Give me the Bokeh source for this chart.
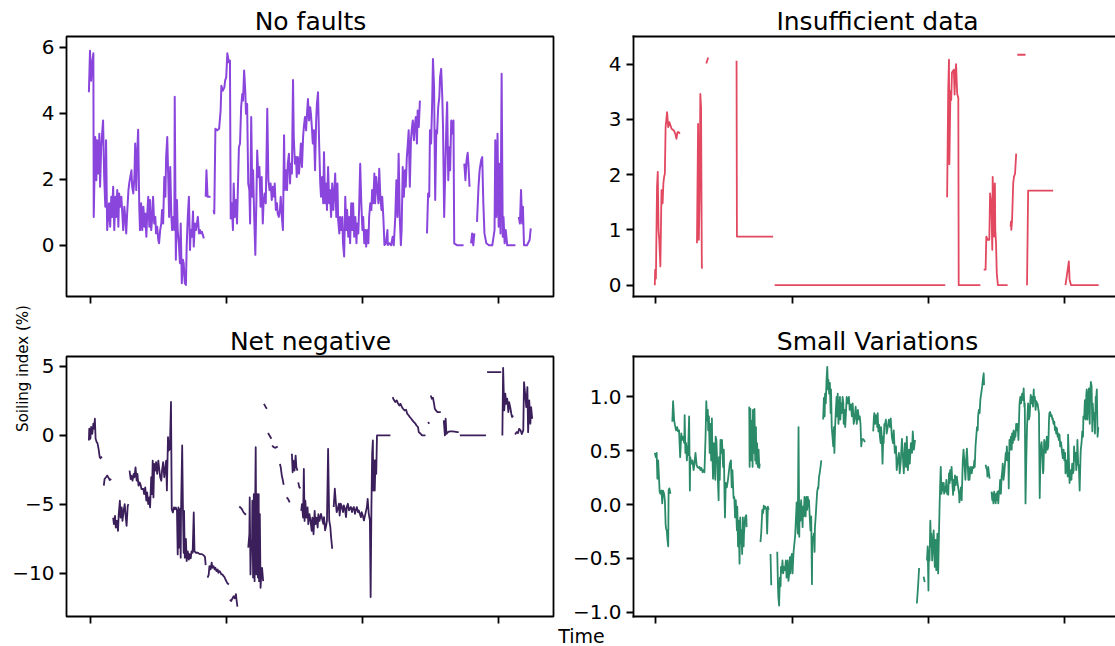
import math
from bokeh.plotting import figure
from bokeh.models import Range1d, FixedTicker, LinearAxis, CustomJSTickFormatter, GridBox
from bokeh.core.properties import value
from bokeh.embed import file_html
from bokeh.resources import INLINE

# ---------------- data (day index, soiling index %) ; None = gap ----------------
TITLES = ["No faults", "Insufficient data", "Net negative", "Small Variations"]
COLORS = ["#8a46dc", "#e2485f", "#3b1f5b", "#2b8a68"]
X_TICKS = [3, 368, 733, 1098]
TL_YTICKS = [0, 2, 4, 6]
TR_YTICKS = [0, 1, 2, 3, 4]
BL_YTICKS = [-10, -5, 0, 5]
BR_YTICKS = [-1.0, -0.5, 0.0, 0.5, 1.0]
Y_LABEL = "Soiling index (%)"
X_LABEL = "Time"

NO_FAULTS = [
(0,4.63),(3,5.89),(6,4.98),(9,5.54),(12,5.81),(13,0.86),(17,3.28),(20,1.97),(22,3.18),(25,2.17),(28,3.38),(30,1.77),(33,2.97),(36,3.48),(38,3.78),(41,2.07),(44,1.17),(46,3.18),(49,0.46),(52,0.96),(54,1.27),(57,0.56),(60,1.47),(62,0.86),(65,1.77),(68,0.46),(71,1.47),(73,0.86),(76,1.67),(79,0.56),(81,1.57),(84,1.17),(87,1.47),(89,1.07),(92,0.46),(95,1.17),(98,0.76),(100,0.36),(103,1.07),(106,1.67),(108,1.87),(111,2.07),(114,2.27),(116,1.77),(119,1.57),(122,2.07),(124,3.08),(127,1.67),(129,2.67),(132,3.50),(135,1.17),(137,0.46),(140,1.27),(143,0.46),(146,1.17),(149,0.56),(151,0.96),(154,0.26),(156,0.86),(159,1.47),(162,0.56),(164,1.37),(167,0.46),(170,0.86),(172,1.47),(175,0.66),(178,0.86),(180,0.36),(183,0.56),(186,0.16),(188,0.06),(191,0.46),(194,0.66),(196,1.07),(199,0.66),(202,2.07),(205,1.47),(207,2.67),(210,3.28),(213,1.87),(215,0.86),(218,2.37),(221,0.86),(223,0.46),(226,0.86),(229,0.46),(230,4.50),(233,-0.44),(236,1.37),(238,0.46),(241,0.06),(244,-0.54),(246,0.66),(249,-1.15),(252,-0.44),(254,-0.54),(257,-1.15),(260,-1.20),(262,-0.04),(265,0.86),(268,1.47),(271,-0.14),(273,0.46),(276,0.26),(279,1.02),(281,-0.04),(284,0.66),(287,0.46),(290,0.71),(292,0.86),(295,0.36),(298,0.46),(300,0.36),(303,0.41),(308,0.21),
(310,None),
(313,1.47),(315,2.27),(318,1.47),(326,1.47),
(330,None),
(334,1.07),(336,0.96),(339,3.53),(344,3.48),(349,3.53),(353,4.08),(355,4.83),(359,4.68),(363,4.78),(365,4.98),(368,5.09),(371,5.81),(375,5.54),(378,5.59),(380,0.81),(383,1.27),(386,0.46),(388,1.87),(391,0.86),(394,1.37),(397,0.66),(402,2.97),(405,3.08),(408,4.18),(411,4.58),(413,4.38),(416,5.29),(419,4.68),(421,3.98),(424,4.28),(427,1.87),(430,1.67),(432,0.66),(435,3.88),(438,1.47),(440,2.27),(443,0.86),(446,-0.29),(449,1.47),(451,2.87),(454,2.07),(457,2.37),(460,1.17),(463,2.07),(466,0.66),(468,1.27),(471,1.57),(474,1.27),(478,4.13),(481,1.97),(484,1.67),(487,1.87),(490,1.37),(493,1.77),(496,1.47),(498,1.87),(501,1.07),(504,1.27),(506,0.96),(509,0.86),(512,1.07),(514,1.47),(517,0.86),(520,0.46),(523,3.33),(525,1.67),(528,2.27),(531,1.67),(533,2.47),(536,2.77),(539,1.87),(541,2.47),(544,2.17),(547,5.00),(549,3.28),(552,2.47),(555,2.67),(557,2.07),(560,2.67),(563,2.17),(566,2.67),(568,3.08),(571,2.37),(574,3.28),(576,3.58),(579,3.88),(582,3.48),(585,4.08),(587,4.43),(590,3.78),(593,4.18),(595,3.98),(598,3.48),(600,3.08),(603,3.48),(606,2.27),(609,3.78),(611,4.28),(614,4.63),(617,3.08),(620,1.87),(622,1.47),(625,2.07),(628,1.27),(630,2.82),(633,1.27),(636,1.87),(638,1.07),(641,2.37),(644,1.27),(646,1.67),(649,0.86),(652,1.87),(655,1.07),(657,1.47),(660,2.17),(663,0.86),(666,1.87),(668,0.76),(671,0.36),(673,0.86),(676,0.46),(679,0.86),(681,0.06),(684,-0.34),(687,1.47),(690,0.46),(692,1.07),(695,0.26),(698,0.86),(700,0.06),(703,1.27),(706,0.46),(708,1.27),(711,0.26),(714,0.86),(717,0.06),(719,0.66),(722,0.36),(724,1.07),(727,2.47),(730,1.27),(733,0.46),(735,0.86),(738,0.06),(741,0.46),(743,-0.04),(746,0.46),(749,0.06),(751,0.86),(754,1.27),(757,1.07),(759,1.67),(762,1.27),(765,2.17),(767,1.27),(770,2.07),(773,1.67),(776,1.27),(778,2.32),(781,1.47),(784,1.07),(786,1.47),(789,0.86),(792,0.01),(796,0.06),(800,0.46),(801,0.01),(806,0.06),(810,0.0),(814,0.26),(817,0.0),(821,0.86),(824,1.97),(827,0.86),(830,2.77),(833,0.86),(836,0.0),(838,0.46),(841,2.37),(844,1.47),(847,2.27),(849,1.77),(852,2.67),(854,2.97),(857,3.48),(860,1.77),(863,3.18),(865,3.48),(868,3.78),(871,3.18),(873,3.58),(876,3.88),(879,3.08),(881,4.08),(884,3.58),(887,4.38),
(895,None),
(906,0.36),(909,1.57),(912,1.47),(914,3.48),(917,3.08),(920,4.38),(922,5.64),(925,4.78),(928,1.37),(931,3.48),(933,3.38),(936,4.18),(939,4.48),(941,5.09),(944,5.34),(947,4.48),(949,3.58),(952,0.86),(955,2.27),(958,3.68),(960,4.33),(963,1.97),(966,2.97),(968,2.27),(971,3.78),(974,3.38),(977,3.78),(979,0.06),(987,0.0),(996,0.0),(1004,0.0),
(1005,None),
(1006,2.47),(1009,1.97),(1012,2.57),(1015,2.80),(1017,2.47),(1020,1.77),
(1022,None),
(1024,0.06),(1027,0.36),(1030,0.0),(1033,0.36),
(1036,None),
(1040,0.71),(1044,1.77),(1047,2.27),(1051,2.57),(1054,2.67),(1057,1.27),(1060,0.36),(1065,0.06),(1072,0.0),(1081,0.0),(1087,0.46),(1089,3.18),(1092,0.86),(1095,3.38),(1098,0.56),(1101,2.47),(1103,0.36),(1106,5.19),(1109,0.26),(1111,0.86),(1114,0.06),(1117,0.46),(1121,0.0),(1130,0.0),(1143,0.0),
(1148,None),
(1152,0.86),(1155,0.66),(1158,1.67),(1161,0.66),(1163,1.17),(1166,0.0),(1174,0.0),(1181,0.16),(1184,0.51),
]

INSUFFICIENT = [
(0,0.0),(1,0.28),(2,0.2),(3,0.12),(6,1.78),(8,2.05),(10,1.0),(12,0.82),(15,0.34),(18,1.72),(21,1.48),(23,1.84),(25,1.96),(27,2.02),(29,2.86),(31,3.0),(33,3.13),(36,2.86),(39,2.95),(45,2.83),(51,2.8),(55,2.74),(58,2.65),(61,2.77),(64,2.77),(67,2.74),
(90,None),
(113,0.76),(116,2.92),(118,0.82),(120,1.6),(122,3.46),(124,3.22),(126,0.34),(127,0.3),
(132,None),
(138,4.01),(143,4.12),
(180,None),
(219,4.06),(220,0.88),(317,0.88),
(319,None),
(321,0.0),(778,0.0),
(780,None),
(783,1.59),(786,3.54),(788,4.08),(789,2.19),(792,3.51),(794,3.35),(796,3.85),(799,3.88),(801,3.9),(803,3.45),(805,3.82),(807,4.0),(810,3.46),(813,3.39),(814,0.0),(872,0.0),
(876,None),
(881,0.28),(886,0.28),(888,0.88),(892,0.82),(896,0.82),(898,1.66),(900,1.54),(902,1.3),(904,0.64),(905,1.96),(907,1.6),(909,0.88),(911,1.84),(912,1.0),(914,0.76),(916,0.22),(919,0.0),(945,0.0),
(948,None),
(953,1.06),(954,1.15),(955,1.0),(957,1.18),(960,1.84),(962,1.96),(965,2.02),(968,2.38),
(969,None),
(971,4.17),(993,4.17),
(995,None),
(997,0.0),(1000,1.71),(1067,1.71),
(1080,None),
(1100,0.0),(1106,0.28),(1109,0.43),(1111,0.1),(1115,0.0),(1189,0.0),
]

NET_NEGATIVE = [
(0,-0.36),(1,0.49),(4,-0.24),(6,0.61),(9,0.12),(12,0.85),(14,0.49),(16,1.21),(18,-0.24),(21,-0.49),(23,-0.56),(26,-0.97),(29,-1.58),(31,-1.65),(35,-1.53),
(37,None),
(40,-3.64),(42,-3.16),(46,-3.03),(49,-2.91),(53,-3.08),(56,-3.23),(60,-3.16),
(62,None),
(65,-5.95),(67,-6.43),(70,-5.83),(72,-6.67),(75,-6.19),(78,-6.92),(80,-5.70),(83,-4.73),(85,-5.95),(88,-5.22),(90,-6.19),(93,-5.46),(96,-4.98),(98,-5.70),(101,-6.55),(104,-5.10),(106,-4.98),
(107,None),
(109,-2.55),(112,-3.16),(114,-2.91),(117,-3.28),(120,-2.79),(122,-3.03),(125,-2.31),(128,-3.28),(130,-2.79),(133,-3.64),(136,-3.40),(138,-3.52),(141,-3.88),(146,-3.88),(148,-4.25),(151,-3.76),(154,-4.73),(156,-4.13),(159,-4.98),(162,-4.49),(164,-5.22),(167,-3.03),(169,-4.25),(171,-1.82),(173,-4.49),(175,-2.06),(178,-2.55),(180,-1.94),(183,-2.79),(186,-1.82),(188,-2.31),(191,-3.03),(194,-3.28),(196,-2.55),(199,-1.94),(202,-3.03),(204,-2.55),(207,-1.82),(209,-3.98),(212,-0.12),(214,-1.09),(217,-0.97),(220,2.43),(222,-5.34),(225,-5.58),(228,-5.22),(230,-5.34),(233,-5.22),(236,-5.46),(238,-8.62),(240,-5.22),(242,-8.13),(244,-5.34),(246,-8.86),(247,-5.34),(250,-0.73),(252,-5.34),(254,-8.5),(255,-5.46),(257,-8.86),(260,-7.5),(262,-9.1),(265,-8.4),(268,-9.0),(270,-8.6),(273,-8.9),(275,-8.4),(278,-8.5),(281,-5.58),(283,-8.4),(287,-8.5),(292,-8.5),(297,-8.6),(303,-8.6),(308,-8.7),(311,-8.8),(313,-9.4),
(315,None),
(318,-10.3),(321,-10.1),(323,-9.47),(326,-9.7),(329,-9.22),(331,-9.59),(334,-9.47),(337,-9.71),(339,-9.59),(342,-9.83),(345,-9.71),(347,-9.95),(350,-9.83),(353,-9.95),(355,-10.07),(358,-10.07),(361,-10.2),(363,-10.25),(366,-10.44),(371,-10.7),(375,-10.8),
(376,None),
(378,-11.9),(381,-12.0),(385,-11.8),(388,-11.65),(391,-11.8),(394,-11.5),(396,-12.0),(398,-12.4),
(400,None),
(403,-5.15),(406,-5.22),(410,-5.34),(413,-5.51),(417,-5.66),(421,-5.75),
(424,None),
(427,-8.13),(430,-7.16),(431,-4.49),(433,-10.07),(435,-7.65),(437,-8.13),(438,-4.73),(440,-10.3),(442,-4.25),(444,-10.56),(446,-3.76),(447,-0.85),(449,-10.07),(451,-4.25),(453,-10.3),(455,-4.25),(456,-10.56),(458,-5.7),(460,-11.04),(462,-10.07),(464,-9.59),(467,-10.56),
(468,None),
(469,2.29),(474,2.05),(477,1.93),
(478,None),
(480,0.17),(484,0.0),(489,-0.24),
(490,None),
(491,-0.73),(495,-0.85),(500,-0.9),(506,-0.8),
(509,None),
(512,-2.06),(514,-2.3),(517,-2.91),(519,-3.16),(522,-3.57),
(526,None),
(530,-4.49),(534,-4.61),(538,-4.85),
(541,None),
(544,-1.33),(546,-2.67),(548,-1.82),(551,-2.55),(554,-1.46),(556,-2.31),(559,-2.55),
(560,None),
(561,-3.4),(564,-3.76),(567,-3.83),
(568,None),
(569,-5.46),(571,-4.98),(574,-5.95),(576,-2.43),(578,-6.19),(580,-4.73),(583,-5.95),(586,-5.22),(588,-6.43),(591,-5.7),(594,-6.19),(597,-6.92),(599,-5.95),(602,-7.16),(605,-5.46),(607,-6.43),(610,-5.95),(613,-6.67),(615,-5.7),(618,-6.19),(622,-5.68),(625,-6.04),(628,-6.4),(630,-5.92),(633,-6.88),(636,-6.52),(638,-6.16),(641,-0.97),(644,-6.16),(647,-6.64),(649,-7.37),(652,-8.21),
(654,None),
(656,-5.19),(659,-3.86),(662,-4.95),(664,-5.56),(667,-5.31),(670,-4.95),(672,-5.8),(675,-4.95),(678,-5.19),(681,-5.56),(683,-5.07),(686,-5.31),(689,-5.92),(691,-5.19),(694,-4.95),(697,-5.43),(699,-5.31),(702,-5.19),(705,-5.56),(707,-5.31),(710,-5.19),(713,-5.68),(715,-5.43),(718,-5.19),(721,-5.56),(723,-5.43),(726,-5.68),(729,-5.92),(731,-5.56),(734,-5.8),(737,-6.16),(739,-5.92),(742,-5.56),(745,-5.19),(747,-4.59),(750,-5.68),(753,-6.16),(755,-11.71),(757,-5.43),(759,-1.33),(761,-0.36),(762,-3.99),(764,-1.81),(766,-3.99),(768,-1.81),(770,-2.78),(772,0.0),(808,0.0),
(811,None),
(814,2.78),(817,2.58),(821,2.42),(825,2.54),(828,2.34),(832,2.17),(835,2.29),(839,2.05),(842,1.93),(846,1.81),(850,1.86),(853,1.57),(857,1.45),(860,1.33),(864,1.21),(867,1.09),(871,0.97),(875,0.85),(878,0.72),(882,0.6),(884,0.24),(889,0.12),(893,0.0),(898,0.0),(902,0.0),
(905,None),
(909,0.97),(912,0.85),
(914,None),
(916,2.9),(919,2.66),(922,2.73),(925,2.29),(927,1.93),(930,1.81),(934,1.69),(938,1.69),(943,1.69),
(947,None),
(951,1.09),(954,0.0),(956,1.21),(958,0.12),(962,0.24),(967,0.29),(973,0.29),(980,0.27),(987,0.24),(991,0.24),
(992,None),
(994,0.0),(1064,0.0),
(1065,None),
(1067,4.59),(1105,4.59),
(1106,None),
(1108,0.0),(1110,4.9),(1113,1.81),(1116,3.02),(1118,2.29),(1121,2.66),(1124,1.69),(1126,2.42),(1129,2.05),(1132,1.57),(1134,1.33),(1137,1.45),
(1139,None),
(1142,0.07),(1146,0.24),(1150,0.17),(1153,0.48),(1157,0.36),(1160,0.1),(1164,0.36),(1166,3.86),(1169,3.02),(1172,2.05),(1175,3.5),(1177,0.24),(1180,2.54),(1183,0.85),(1185,2.05),(1188,1.21),
]

SMALL_VARIATIONS = [
(0,0.48),(3,0.44),(5,0.48),(7,0.24),(9,0.41),(11,0.27),(13,0.12),(15,0.10),(18,0.13),(20,0.01),(22,0.13),(25,0.10),(27,0.04),(29,-0.18),(30,-0.22),(32,-0.24),(34,-0.33),(36,-0.39),(37,0.13),(39,0.15),(42,0.10),
(44,None),
(47,0.77),(49,0.96),(52,0.78),(54,0.74),(57,0.69),(60,0.72),(62,0.68),(65,0.69),(68,0.44),(71,0.66),(73,0.60),(76,0.63),(79,0.57),(80,0.83),(82,0.48),(84,0.57),(86,0.41),(88,0.54),(89,0.46),(92,0.82),(94,0.13),(95,0.44),(98,0.38),(101,0.41),(104,0.32),(106,0.37),(109,0.48),(112,0.37),(114,0.35),(117,0.34),(120,0.35),(122,0.32),(125,0.34),(128,0.30),(130,0.32),(133,0.30),(136,0.63),(138,0.96),(140,0.78),(142,0.88),(143,0.69),(145,0.82),(147,0.48),(149,0.75),(151,0.41),(153,0.80),(154,0.54),(156,0.24),(158,0.57),(160,0.38),(162,0.23),(163,0.63),(165,0.60),(168,0.32),(171,0.04),(172,0.44),(174,0.23),(176,0.60),(179,0.48),(180,0.60),(183,0.35),(185,0.51),(187,0.04),(188,-0.12),(190,0.20),(193,0.16),(196,0.23),(198,0.29),(201,0.38),(204,0.41),(206,0.16),(208,0.32),(211,0.06),(213,0.07),(215,-0.12),(217,0.04),(220,-0.24),(221,-0.02),(223,-0.39),(225,-0.15),(227,-0.55),(229,-0.12),(230,-0.36),(232,-0.24),(234,-0.46),(236,-0.12),(238,-0.39),(239,-0.27),(242,-0.12),(245,-0.10),(246,-0.21),
(248,None),
(253,0.91),(254,0.35),(256,0.89),(258,0.41),(260,0.78),(262,0.35),(263,0.88),(265,0.48),(267,0.89),(269,0.41),(271,0.72),(272,0.38),(274,0.57),(276,0.35),(278,0.51),(280,0.34),(281,0.38),
(282,None),
(283,-0.35),(285,-0.27),(287,-0.12),(288,-0.05),(290,-0.08),(292,-0.01),(294,-0.04),(296,-0.02),(299,-0.04),(301,-0.27),(303,-0.02),(305,-0.05),
(307,None),
(310,-0.46),(312,-0.75),
(314,None),
(328,-0.44),(330,-0.76),(331,-0.86),(333,-0.94),(335,-0.68),(337,-0.76),(338,-0.58),(340,-0.63),(342,-0.52),(344,-0.64),(346,-0.58),(347,-0.61),(349,-0.61),(351,-0.52),(353,-0.68),(355,-0.58),(356,-0.52),(358,-0.71),(360,-0.64),(362,-0.49),(363,-0.64),(365,-0.52),(367,-0.46),(369,-0.64),(371,-0.49),(372,-0.43),(376,-0.29),(380,0.02),(383,-0.27),(385,0.72),(387,-0.30),(388,0.01),(390,-0.15),(392,0.04),(394,-0.08),(396,-0.21),(397,-0.02),(399,-0.11),(401,0.07),(403,-0.04),(404,-0.11),(406,0.07),(408,-0.05),(410,0.07),(412,-0.02),(413,0.04),(415,-0.11),(417,-0.24),(419,-0.11),(421,-0.74),(422,-0.30),(424,-0.33),(426,-0.27),(428,-0.44),(429,-0.21),(431,-0.11),(433,0.01),(435,0.12),(437,0.16),(438,0.15),(440,0.26),(442,0.30),(444,0.35),(446,0.41),
(448,None),
(451,0.79),(453,0.99),(455,0.82),(456,1.03),(458,0.94),(460,1.16),(462,1.28),(464,1.07),(465,1.16),(467,1.03),(469,1.13),(471,0.85),(472,1.07),(474,0.72),(476,0.63),(478,0.54),(480,0.72),(481,0.48),(483,0.72),(485,0.88),(487,1.0),(488,0.82),(490,1.03),(492,0.75),(494,0.91),(496,1.0),(497,0.79),(499,0.94),(501,0.85),(503,1.0),(505,0.94),(506,0.75),(508,0.88),(510,0.72),(512,0.85),(514,1.0),(517,0.94),(520,1.0),(522,0.88),(525,0.93),(528,0.82),(530,0.94),(533,0.75),(536,0.82),(538,0.91),(541,0.75),(544,0.88),(547,0.79),(549,0.82),(551,0.75),(553,0.54),(555,0.60),(557,0.61),(560,0.60),(563,0.58),
(565,None),
(585,0.68),(587,0.82),(588,0.85),(590,0.75),(592,0.83),(594,0.80),(596,0.72),(597,0.85),(599,0.68),(601,0.74),(603,0.63),(605,0.57),(606,0.72),(608,0.63),(610,0.38),(612,0.63),(613,0.57),(615,0.75),(617,0.75),(619,0.79),(621,0.66),(624,0.72),(627,0.79),(630,0.72),(632,0.80),(635,0.63),(638,0.57),(640,0.69),(643,0.48),(646,0.54),(648,0.32),(651,0.41),(654,0.48),(656,0.29),(659,0.41),(662,0.61),(664,0.48),(667,0.29),(670,0.57),(673,0.35),(675,0.63),(678,0.32),(681,0.51),(683,0.38),(686,0.57),(689,0.48),(691,0.68),(694,0.51),(697,0.60),
(700,None),
(702,-0.92),(705,-0.77),(708,-0.59),
(710,None),
(720,-0.67),(723,-0.72),
(725,None),
(729,-0.52),(731,-0.39),(733,-0.80),(734,-0.43),(736,-0.52),(738,-0.15),(740,-0.39),(741,-0.27),(743,-0.52),(745,-0.39),(747,-0.24),(749,-0.46),(750,-0.58),(752,-0.33),(754,-0.61),(756,-0.36),(757,-0.27),(759,-0.64),(761,-0.30),(763,0.01),(765,0.26),(766,0.35),(768,0.10),(770,0.20),(772,0.13),(774,0.20),(775,0.10),(777,0.16),(779,0.12),(781,0.23),(783,0.10),(784,0.16),(786,0.09),(788,0.29),(790,0.20),(791,0.32),(793,0.23),(795,0.35),(797,0.20),(799,0.09),(800,0.23),(802,0.13),(804,0.27),(806,0.18),(807,0.23),(809,0.26),(811,0.20),(813,0.15),(815,0.10),(816,0.02),(818,0.10),(820,0.16),(822,0.04),(825,0.41),(827,0.51),(829,0.41),(831,0.29),(832,0.23),(834,0.41),(836,0.52),(838,0.38),(840,0.23),(841,0.35),(843,0.23),(845,0.32),(847,0.35),(849,0.29),(850,0.32),(852,0.35),(854,0.34),(856,0.41),(857,0.35),(859,0.54),(861,0.63),(863,0.72),(865,0.69),(866,0.82),(868,0.88),(870,0.85),(872,0.97),(873,1.0),(875,1.05),(877,1.10),(879,1.17),(881,1.22),(882,1.11),
(884,None),
(886,0.37),(888,0.34),(890,0.32),(891,0.26),(893,0.35),(895,0.29),(897,0.24),
(899,None),
(902,0.12),(904,0.04),(905,0.10),(907,0.01),(909,0.12),(911,0.07),(913,0.01),(915,0.10),(916,0.04),(918,0.12),(920,0.01),(922,0.13),(923,0.10),(925,0.23),(927,0.10),(929,0.26),(931,0.32),(932,0.38),(934,0.23),(936,0.29),(938,0.38),(940,0.48),(941,0.41),(943,0.54),(945,0.41),(947,0.48),(948,0.15),(950,0.60),(952,0.51),(954,0.63),(956,0.51),(957,0.66),(959,0.57),(961,0.69),(963,0.60),(965,0.68),(966,0.63),(968,0.75),(970,0.69),(972,0.75),(974,0.60),(975,0.72),(977,0.94),(979,1.0),(981,0.94),(982,0.99),(984,1.03),(986,0.97),(988,1.08),(990,0.91),(991,0.94),(993,0.01),(995,0.41),(997,0.72),(999,0.88),(1000,0.94),(1002,0.79),(1004,0.82),(1006,0.97),(1007,1.02),(1009,0.94),(1011,1.0),(1013,0.91),(1015,1.07),(1016,0.97),(1018,1.0),(1020,0.88),(1022,0.96),(1024,0.93),(1025,0.94),(1029,0.85),(1031,0.06),(1032,0.26),(1034,0.54),(1036,0.58),(1038,0.48),(1040,0.29),(1041,0.32),(1043,0.60),(1045,0.57),(1047,0.48),(1049,0.57),(1050,0.63),(1052,0.51),(1054,0.54),(1056,0.80),(1057,0.85),(1059,0.86),(1061,0.82),(1063,0.83),(1065,0.79),(1066,0.80),(1068,0.75),(1070,0.77),(1072,0.69),(1074,0.72),(1075,0.66),(1077,0.71),(1079,0.63),(1081,0.66),(1082,0.60),(1084,0.65),(1086,0.54),(1088,0.58),(1090,0.52),(1091,0.48),(1093,0.43),(1095,0.51),(1097,0.41),(1099,0.48),(1100,0.29),(1102,0.41),(1104,0.35),(1106,0.26),(1107,0.65),(1109,0.44),(1111,0.20),(1113,0.32),(1115,0.29),(1116,0.23),(1118,0.38),(1120,0.29),(1122,0.32),(1123,0.54),(1125,0.41),(1127,0.48),(1129,0.32),(1131,0.44),(1132,0.60),(1134,0.38),(1136,0.35),(1138,0.13),(1140,0.41),(1141,0.51),(1143,0.57),(1145,0.68),(1147,0.63),(1148,0.82),(1150,0.80),(1152,0.97),(1154,0.79),(1156,1.03),(1157,1.07),(1159,0.79),(1161,1.0),(1163,1.08),(1165,0.75),(1166,1.0),(1168,1.14),(1170,1.10),(1172,0.68),(1173,0.94),(1175,0.79),(1177,0.85),(1179,0.66),(1181,1.0),(1182,0.97),(1184,1.07),(1186,0.63),(1188,0.72),
]

# ---------------- styling ----------------
FONT = "DejaVu Sans"
W_TOTAL, H_TOTAL = 1115, 646


def split(points):
    xs = [p[0] for p in points]
    ys = [float("nan") if p[1] is None else p[1] for p in points]
    return xs, ys


def hidden_label_axis(ticks, tick_out, line_color):
    return LinearAxis(ticker=FixedTicker(ticks=ticks), major_label_text_color=None,
                      major_label_text_font_size="1px", major_label_standoff=0,
                      axis_line_width=1.8, axis_line_color=line_color, axis_line_cap="square",
                      major_tick_in=0, major_tick_out=tick_out, major_tick_line_width=1.8,
                      major_tick_line_color="black", minor_tick_in=0, minor_tick_out=0)


def make_panel(points, color, lw, yrange, yticks, decimals, right, top):
    p = figure(
        width=558 if right else 557,
        height=306 if top else 340,
        x_range=Range1d(-57, 1234) if right else Range1d(-60, 1245),
        y_range=Range1d(*yrange),
        x_axis_type=None, y_axis_type=None,
        min_border_left=76 if right else 66,
        min_border_right=0 if right else 4,
        min_border_top=36 if top else 50,
        min_border_bottom=10 if top else 30,
        output_backend="svg", toolbar_location=None,
        background_fill_color="white", border_fill_color="white",
    )
    xs, ys = split(points)
    p.line(xs, ys, line_color=color, line_width=lw, line_join="round")

    line_col = "black" if right else None
    p.add_layout(hidden_label_axis(X_TICKS, 7, line_col), "below")

    fmt = CustomJSTickFormatter(args=dict(d=decimals),
                                code="return tick.toFixed(d).replace('-', '\u2212');")
    ya = LinearAxis(ticker=FixedTicker(ticks=yticks), formatter=fmt,
                    major_label_text_font=FONT, major_label_text_font_size="20px",
                    major_label_text_color="black", major_label_standoff=5,
                    axis_line_width=1.8, axis_line_color=line_col, axis_line_cap="square",
                    major_tick_in=0, major_tick_out=7, major_tick_line_width=1.8,
                    major_tick_line_color="black", minor_tick_in=0, minor_tick_out=0)
    p.add_layout(ya, "left")

    if right:
        p.outline_line_color = None
        p.add_layout(hidden_label_axis(X_TICKS, 0, "black"), "above")
    else:
        p.outline_line_color = "black"
        p.outline_line_width = 1.8
    return p


tl = make_panel(NO_FAULTS, COLORS[0], 2.0, (-1.55, 6.32), TL_YTICKS, 0, False, True)
tr = make_panel(INSUFFICIENT, COLORS[1], 1.8, (-0.205, 4.50), TR_YTICKS, 0, True, True)
bl = make_panel(NET_NEGATIVE, COLORS[2], 1.8, (-13.12, 5.72), BL_YTICKS, 0, False, False)
br = make_panel(SMALL_VARIATIONS, COLORS[3], 1.8, (-1.041, 1.376), BR_YTICKS, 1, True, False)

# transparent overlay canvas (page pixel coordinates, y up) for titles and shared labels
ov = figure(width=W_TOTAL, height=H_TOTAL, x_range=Range1d(0, W_TOTAL), y_range=Range1d(0, H_TOTAL),
            x_axis_type=None, y_axis_type=None, min_border=0,
            output_backend="svg", toolbar_location=None,
            background_fill_color=None, border_fill_color=None, outline_line_color=None)
ov.frame_align = False
ov.text(x=[310, 877, 310, 877], y=[H_TOTAL - 20.5, H_TOTAL - 20.5, H_TOTAL - 340.5, H_TOTAL - 340.5],
        text=TITLES, text_align="center", text_baseline="middle",
        text_font=value(FONT), text_font_size="25px", text_color="black")
ov.text(x=[22], y=[H_TOTAL - 368], text=[Y_LABEL], angle=math.pi / 2,
        text_align="center", text_baseline="middle",
        text_font=value(FONT), text_font_size="15px", text_color="black")
ov.text(x=[581], y=[H_TOTAL - 635], text=[X_LABEL], text_align="center", text_baseline="middle",
        text_font=value(FONT), text_font_size="19px", text_color="black")

layout = GridBox(children=[(tl, 0, 0), (tr, 0, 1), (bl, 1, 0), (br, 1, 1), (ov, 0, 0, 2, 2)])
open("out.html", "w").write(file_html(layout, INLINE))
